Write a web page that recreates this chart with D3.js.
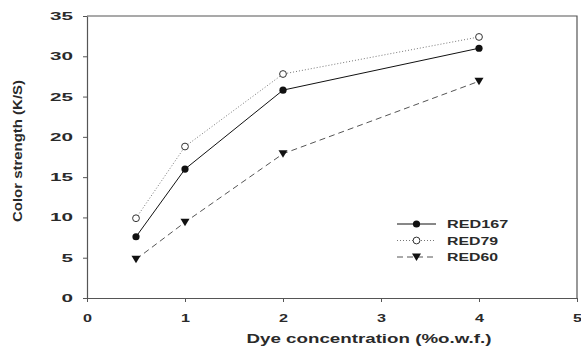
<!DOCTYPE html>
<html>
<head>
<meta charset="utf-8">
<script src="https://cdn.jsdelivr.net/npm/d3@7"></script>
<style>
  body { margin: 0; background: #fff; }
  text { font-family: "Liberation Sans", Arial, sans-serif; font-weight: bold; fill: #2a2a2a; }
</style>
</head>
<body>
<svg id="chart" width="581" height="352"></svg>
<script>
// Dye concentration (% o.w.f.)
var conc = [0.5, 1, 2, 4];

// Color strength (K/S) per dye
var red167 = [7.6, 16.0, 25.8, 31.0];
var red79  = [9.9, 18.8, 27.8, 32.4];
var red60  = [4.8, 9.4, 17.9, 26.9];

var x_ticks = [0, 1, 2, 3, 4, 5];
var y_ticks = [0, 5, 10, 15, 20, 25, 30, 35];

var series = [
  { name: "RED167", vals: red167, dash: null,  stroke: "#111", marker: "dot" },
  { name: "RED79",  vals: red79,  dash: "1,2", stroke: "#777", marker: "ring" },
  { name: "RED60",  vals: red60,  dash: "6,4", stroke: "#555", marker: "tri" }
];

var svg = d3.select("#chart");

var x = d3.scaleLinear().domain([0, 5]).range([87, 577]);
var y = d3.scaleLinear().domain([0, 35]).range([298, 16]);

// frame (top and right)
svg.append("path")
  .attr("d", "M" + x(0) + "," + y(35) + "H" + x(5) + "V" + y(0))
  .attr("fill", "none")
  .attr("stroke", "#555")
  .attr("stroke-width", 1.2);

// axes
var x_axis = svg.append("g")
  .attr("transform", "translate(0," + y(0) + ")")
  .call(d3.axisBottom(x).tickValues(x_ticks).tickFormat(d3.format("d"))
    .tickSize(4).tickPadding(12).tickSizeOuter(0));

var y_axis = svg.append("g")
  .attr("transform", "translate(" + x(0) + ",0)")
  .call(d3.axisLeft(y).tickValues(y_ticks).tickFormat(d3.format("d"))
    .tickSize(4).tickPadding(10).tickSizeOuter(0));

[x_axis, y_axis].forEach(function (g) {
  g.select(".domain").attr("stroke", "#555").attr("stroke-width", 1.2);
  g.selectAll(".tick line").attr("stroke", "#555");
  g.selectAll(".tick text")
    .attr("font-size", 11)
    .attr("fill", "#2a2a2a")
    .attr("font-family", "Liberation Sans, Arial, sans-serif");
});

x_axis.selectAll(".tick text")
  .attr("textLength", 9)
  .attr("lengthAdjust", "spacingAndGlyphs");

y_axis.selectAll(".tick text")
  .attr("textLength", function (d) { return String(d).length * 11.5; })
  .attr("lengthAdjust", "spacingAndGlyphs");

// axis titles
svg.append("text")
  .attr("x", 369)
  .attr("y", 343)
  .attr("text-anchor", "middle")
  .attr("font-size", 12)
  .attr("textLength", 245)
  .attr("lengthAdjust", "spacingAndGlyphs")
  .text("Dye concentration (%o.w.f.)");

svg.append("text")
  .attr("transform", "translate(22,151) rotate(-90)")
  .attr("text-anchor", "middle")
  .attr("font-size", 13)
  .attr("textLength", 142)
  .attr("lengthAdjust", "spacingAndGlyphs")
  .text("Color strength (K/S)");

// markers
function draw_marker(g, kind, cx, cy) {
  if (kind === "dot") {
    g.append("circle").attr("cx", cx).attr("cy", cy).attr("r", 3.6).attr("fill", "#111");
  }
  else if (kind === "ring") {
    g.append("circle").attr("cx", cx).attr("cy", cy).attr("r", 3.4)
      .attr("fill", "#fff").attr("stroke", "#333").attr("stroke-width", 1);
  }
  else {
    g.append("path")
      .attr("d", "M" + (cx - 4.5) + "," + (cy - 3.5) + "H" + (cx + 4.5) + "L" + cx + "," + (cy + 4) + "Z")
      .attr("fill", "#111");
  }
}

var line = d3.line()
  .x(function (d) { return x(d[0]); })
  .y(function (d) { return y(d[1]); });

series.forEach(function (s) {
  var pts = conc.map(function (c, i) { return [c, s.vals[i]]; });
  var g = svg.append("g");
  g.append("path")
    .attr("d", line(pts))
    .attr("fill", "none")
    .attr("stroke", s.stroke)
    .attr("stroke-width", 1)
    .attr("stroke-dasharray", s.dash);
  pts.forEach(function (p) {
    draw_marker(g, s.marker, x(p[0]), y(p[1]));
  });
});

// legend
var legend = svg.append("g");
series.forEach(function (s, i) {
  var ly = 224 + i * 16.5;
  legend.append("line")
    .attr("x1", 397).attr("x2", 436)
    .attr("y1", ly).attr("y2", ly)
    .attr("stroke", s.stroke)
    .attr("stroke-width", 1)
    .attr("stroke-dasharray", s.dash);
  draw_marker(legend, s.marker, 416.5, ly);
  legend.append("text")
    .attr("x", 447)
    .attr("y", ly + 4)
    .attr("font-size", 10.5)
    .attr("textLength", s.name.length * 10.2)
    .attr("lengthAdjust", "spacingAndGlyphs")
    .text(s.name);
});
</script>
</body>
</html>
